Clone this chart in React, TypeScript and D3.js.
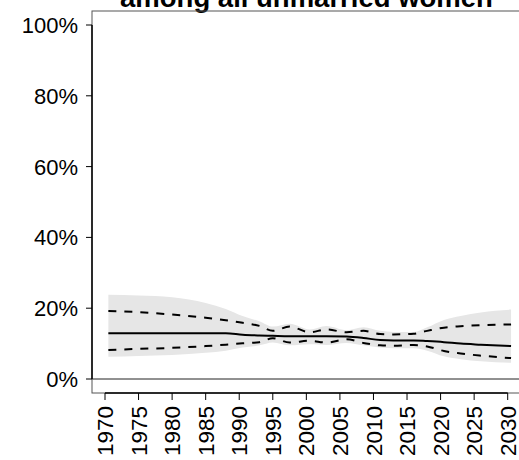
import React from "react";
import * as d3 from "d3";

const years = [1970.5, 1975, 1980, 1985, 1988, 1990.5, 1993, 1995, 1997.5, 2000.5, 2003, 2006, 2008.5, 2011, 2013, 2016, 2018, 2020.5, 2023, 2026, 2030.5];
const median = [12.9, 12.9, 12.9, 12.9, 12.9, 12.5, 12.3, 12.2, 12.1, 12.1, 12.1, 12.0, 11.6, 11.0, 10.9, 10.9, 10.7, 10.4, 10.0, 9.7, 9.3];
const upper80 = [19.2, 18.9, 18.2, 17.3, 16.6, 15.9, 15.0, 13.6, 14.8, 13.2, 14.0, 13.2, 13.6, 12.7, 12.6, 12.8, 13.6, 14.5, 14.9, 15.2, 15.4];
const lower80 = [8.2, 8.5, 8.8, 9.3, 9.7, 10.1, 10.4, 11.5, 10.3, 10.8, 10.3, 11.2, 10.2, 9.5, 9.4, 9.6, 9.2, 7.9, 7.2, 6.6, 5.9];
const upper95 = [23.8, 23.6, 23.1, 21.5, 19.8, 17.8, 16.3, 14.8, 15.6, 14.0, 15.0, 13.8, 14.6, 13.6, 13.3, 13.3, 14.6, 16.7, 17.8, 18.8, 19.6];
const lower95 = [6.3, 6.5, 6.8, 7.4, 8.0, 8.9, 9.5, 10.3, 9.5, 9.8, 9.6, 10.2, 9.5, 8.9, 8.7, 8.7, 8.0, 6.4, 5.6, 5.0, 4.6];
const xTicks = [1970, 1975, 1980, 1985, 1990, 1995, 2000, 2005, 2010, 2015, 2020, 2025, 2030];
const yTicks = [0, 20, 40, 60, 80, 100];
const title = "among all unmarried women";

export default function App() {
  const W = 519, H = 460;
  const x = d3.scaleLinear().domain([1970, 2030]).range([105, 507.7]);
  const y = d3.scaleLinear().domain([0, 100]).range([379, 25]);
  const box = { left: 92, top: 11, right: 523, bottom: 393 };
  const font = "'Liberation Sans', Arial, Helvetica, sans-serif";
  const idx = years.map((_, i) => i);
  const area = d3.area<number>()
    .x((i) => x(years[i]))
    .y0((i) => y(lower95[i]))
    .y1((i) => y(upper95[i]))
    .curve(d3.curveMonotoneX);
  const line = (arr: number[]) =>
    d3.line<number>().x((i) => x(years[i])).y((i) => y(arr[i])).curve(d3.curveMonotoneX)(idx) || "";

  return (
    <svg width={W} height={H} style={{ position: "absolute", left: 0, top: 0, background: "#fff" }} fontFamily={font}>
      <text x={306.5} y={7} textAnchor="middle" fontSize={27.5} fontWeight="bold" fill="#000">{title}</text>
      <path d={area(idx) || ""} fill="#e6e6e6" stroke="none" />
      <path d={line(upper80)} fill="none" stroke="#000" strokeWidth={2} strokeDasharray="8,8" />
      <path d={line(lower80)} fill="none" stroke="#000" strokeWidth={2} strokeDasharray="8,8" />
      <path d={line(median)} fill="none" stroke="#000" strokeWidth={2} />
      <line x1={box.left} x2={box.right} y1={y(0)} y2={y(0)} stroke="#222" strokeWidth={1} />
      <rect x={box.left} y={box.top} width={box.right - box.left} height={box.bottom - box.top} fill="none" stroke="#555" strokeWidth={1} />
      <line x1={box.left} x2={box.left} y1={y(100)} y2={y(0)} stroke="#000" strokeWidth={1.5} />
      {yTicks.map((t) => (
        <g key={t}>
          <line x1={86} x2={box.left} y1={y(t)} y2={y(t)} stroke="#000" strokeWidth={1} />
          <text x={78} y={y(t)} dy="0.36em" textAnchor="end" fontSize={22} fill="#000">{t}%</text>
        </g>
      ))}
      <line x1={x(1970)} x2={x(2030)} y1={box.bottom} y2={box.bottom} stroke="#000" strokeWidth={1.5} />
      {xTicks.map((t) => (
        <g key={t}>
          <line x1={x(t)} x2={x(t)} y1={box.bottom} y2={400} stroke="#000" strokeWidth={1} />
          <text transform={`translate(${x(t)},406) rotate(-90)`} dy="0.36em" textAnchor="end" fontSize={22.5} fill="#000">{t}</text>
        </g>
      ))}
    </svg>
  );
}
